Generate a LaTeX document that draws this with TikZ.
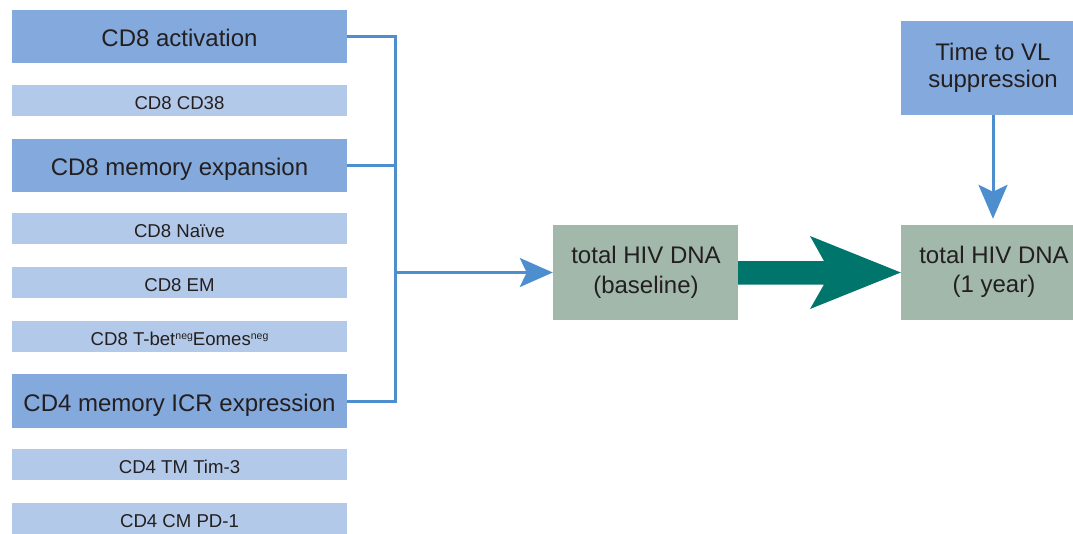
\documentclass[tikz,border=0pt]{standalone}
\usepackage{fontspec}
\setmainfont{Liberation Sans}
\usetikzlibrary{arrows.meta,calc}
\definecolor{dkblue}{HTML}{84A9DC}
\definecolor{ltblue}{HTML}{B3C9E9}
\definecolor{grgreen}{HTML}{A2B8AB}
\definecolor{tealc}{HTML}{00756B}
\definecolor{conn}{HTML}{4D8ECF}
\definecolor{txt}{HTML}{231F20}
\begin{document}
\begin{tikzpicture}[x=1pt,y=-1pt,
  box/.style={rectangle,inner sep=0pt,text=txt},
  darkbox/.style={box,fill=dkblue,minimum width=335pt,minimum height=53pt,
    font=\fontsize{24}{29}\selectfont,text height=20.4pt,text depth=0pt},
  lightbox/.style={box,fill=ltblue,minimum width=335pt,minimum height=31pt,
    font=\fontsize{18.6}{22}\selectfont,text height=17.6pt,text depth=0pt},
  greenbox/.style={box,fill=grgreen},
  btxt/.style={anchor=base,inner sep=0pt,text=txt,font=\fontsize{24}{29}\selectfont},
  conline/.style={draw=conn,line width=3pt},
  sup/.style={},
]
\useasboundingbox (0,0) rectangle (1073,533);
\clip (0,0) rectangle (1073,533);

% left column
\node[darkbox] (act) at (179.5,36.5) {CD8 activation};
\node[lightbox] (cd38) at (179.5,100.5) {CD8 CD38};
\node[darkbox] (mem) at (179.5,165.5) {CD8 memory expansion};
\node[lightbox] (naive) at (179.5,228.5) {CD8 Naïve};
\node[lightbox] (em) at (179.5,282.5) {CD8 EM};
\node[lightbox] (tbet) at (179.5,336.5) {CD8 T-bet\raisebox{6pt}{\fontsize{10.5}{12}\selectfont neg}Eomes\raisebox{6pt}{\fontsize{10.5}{12}\selectfont neg}};
\node[darkbox,minimum height=54pt] (icr) at (179.5,401) {CD4 memory ICR expression};
\node[lightbox] (tim) at (179.5,464.5) {CD4 TM Tim-3};
\node[lightbox] (pd1) at (179.5,518.5) {CD4 CM PD-1};

% right boxes
\node[greenbox,minimum width=185pt,minimum height=95pt] (base) at (645.5,272.5) {};
\node[btxt] (base1) at (646,263.5) {total HIV DNA};
\node[btxt] (base2) at (646,293) {(baseline)};

\node[greenbox,minimum width=186pt,minimum height=95pt] (yr) at (994,272.5) {};
\node[btxt] (yr1) at (994,263.5) {total HIV DNA};
\node[btxt] (yr2) at (994,292) {(1 year)};

\node[box,fill=dkblue,minimum width=184pt,minimum height=94pt] (time) at (993,68) {};
\node[btxt] (time1) at (993,60.7) {Time to VL};
\node[btxt] (time2) at (993,87.3) {suppression};

% bracket connector
\coordinate (btop) at (395.5,36.5);
\draw[conline,line join=miter] (act.east) -- (act.east -| btop) -- (icr.east -| btop) -- (icr.east);
\draw[conline] (mem.east) -- (mem.east -| btop);
\draw[conline,-{Stealth[length=33pt,width=29pt,inset=7pt]}] (base.west -| btop) -- (base.west);

% time arrow
\draw[conline,-{Stealth[length=34pt,width=29pt,inset=7pt]},shorten >=6pt] (time.south) -- (time.south |- yr.north);

% big teal arrow
\fill[tealc] ($(base.east)+(0,-11.5)$) -- (824,261) -- (810,236) -- (yr.west)
  -- (810,309) -- (824,284.5) -- ($(base.east)+(0,12)$) -- cycle;
\end{tikzpicture}
\end{document}
